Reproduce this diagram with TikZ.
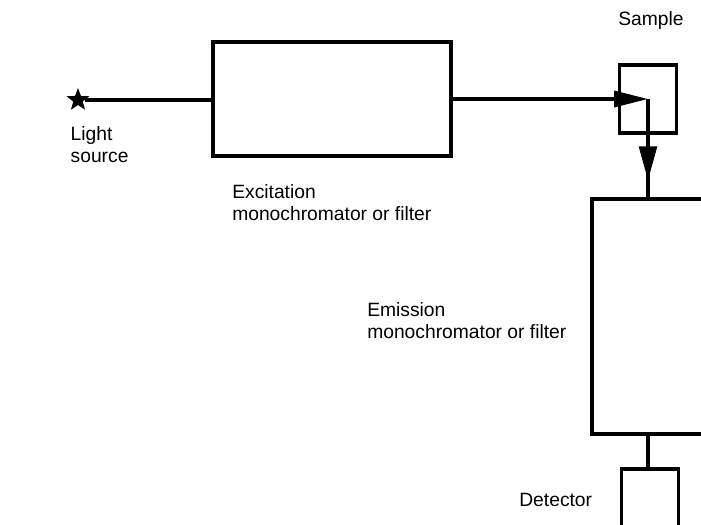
\documentclass[tikz,border=0pt]{standalone}
\usepackage{fontspec}
\setmainfont{Liberation Sans}
\usetikzlibrary{arrows.meta, shapes.geometric, decorations.markings}

\tikzset{
  box/.style={draw, line width=2.6pt, inner sep=0pt},
  beam/.style={line width=2.6pt},
  lbl/.style={inner sep=0pt, align=left, font=\fontsize{13.7}{15.3}\selectfont}
}

\begin{document}
\begin{tikzpicture}
\path[use as bounding box, clip] (0,0) rectangle (17.525,-13.1);
\node[star, star points=5, star point ratio=2.4, fill, minimum size=0.6cm, inner sep=0pt] (src) at (1.95,-2.5) {};
\node[box, minimum width=5.95cm, minimum height=2.85cm] (exc) at (8.3,-2.475) {};
\node[box, minimum width=1.425cm, minimum height=1.7cm] (samp) at (16.2,-2.475) {};
\node[box, minimum width=2.8cm, minimum height=5.875cm] (em) at (16.2,-7.9125) {};
\node[box, minimum width=1.425cm, minimum height=1.7cm] (det) at (16.25,-12.575) {};

\draw[beam] (src) -- (src -| exc.west);
\draw[beam, -{Triangle[length=0.85cm, width=0.4cm]}] (exc) -- (samp.center);
\draw[beam, postaction={decorate},
  decoration={markings, mark=at position 0.83 with {\arrow{Triangle[length=0.85cm, width=0.44cm]}}}]
  (samp.center) -- (em);
\draw[beam] (em) -- (em.south |- det.north);

\node[lbl, anchor=base west] (srclbl) at (1.76,-4.0625) {Light\\source};
\node[lbl, anchor=base west] (exclbl) at (5.8,-5.5125) {Excitation\\monochromator or filter};
\node[lbl, anchor=base west] (samplbl) at (15.45,-0.625) {Sample};
\node[lbl, anchor=base west] (emlbl) at (9.175,-8.4575) {Emission\\monochromator or filter};
\node[lbl, anchor=base east] (detlbl) at (14.81,-12.67) {Detector};
\end{tikzpicture}
\end{document}
